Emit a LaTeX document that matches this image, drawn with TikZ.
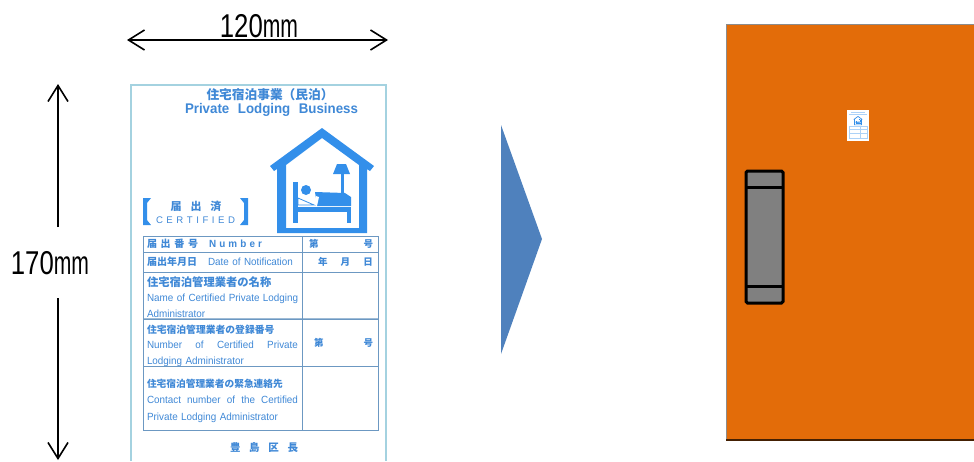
\documentclass[tikz,border=0pt]{standalone}
\usepackage{fontspec}
\usepackage{graphicx}
\setmainfont{Liberation Sans}
\newfontfamily\cjk{Noto Sans CJK JP}
\newfontfamily\narrowsans[FakeStretch=.95]{Liberation Sans}
\usetikzlibrary{arrows.meta,positioning}
\definecolor{signblue}{HTML}{338FEA}
\definecolor{signtext}{HTML}{3F88D6}
\definecolor{tableline}{HTML}{6C98C2}
\definecolor{sheetline}{HTML}{A4D2E0}
\definecolor{doororange}{HTML}{E36C09}
\definecolor{arrowblue}{HTML}{4F81BD}
\newcommand{\spread}[2]{\makebox[#1][s]{#2}}
\newcommand{\jp}[2]{{\cjk\bfseries\fontsize{#1}{15.5}\selectfont #2}}
\newcommand{\dimtext}[1]{\scalebox{.78}[1]{#1}\scalebox{.64}[1]{mm}}
\tikzset{
    signhouse/.pic={
        \fill[signblue, even odd rule] (0,0) -- (52,38) -- (48,43) -- (45,41) -- (45,105) -- (-45,105)
            -- (-45,41) -- (-48,43) -- (-52,38) -- cycle
            (0,10) -- (37,37) -- (37,100) -- (-36,100) -- (-36,37) -- cycle;
        \fill[signblue] (-29,54) rectangle (-24,95);
        \fill[signblue] (-24,79) rectangle (29,84);
        \fill[signblue] (25,84) rectangle (29,95);
        \fill[signblue] (-16,62) circle (5);
        \fill[signblue] (-7,64) -- (23,65) -- (29,69) -- (29,78) -- (-5,78) -- cycle;
        \fill[white] (-9,78) -- (-6,68) -- (-3,69) -- (-5,78) -- cycle;
        \draw[signblue, line width=.8pt, fill=white] (-24,70) -- (-8,77) -- (-24,77) -- cycle;
        \fill[signblue] (15,36) -- (24,36) -- (28,46) -- (11,46) -- cycle;
        \fill[signblue] (18.5,46) rectangle (21.5,65);
    }
}
\begin{document}
\begin{tikzpicture}[
        x=1pt, y=-1pt,
        dimarrow/.style={{Straight Barb[length=16pt, width=20pt, line width=1.6pt]}-{Straight Barb[length=16pt, width=20pt, line width=1.6pt]}, line width=1.6pt},
        dimend/.style={-{Straight Barb[length=16pt, width=20pt, line width=1.6pt]}, line width=1.6pt},
        dimlabel/.style={font=\fontsize{33}{33}\selectfont, inner sep=0pt, text=black},
        signlabel/.style={text=signtext, inner sep=0pt, font=\narrowsans\fontsize{14}{15}\selectfont\bfseries},
        cellleft/.style={draw=tableline, line width=.9pt, text=signtext, minimum width=159pt, minimum height=#1,
                         text width=151pt, inner xsep=4pt, inner ysep=0pt, outer sep=0pt, align=left,
                         font=\narrowsans\fontsize{10.4}{15.5}\selectfont},
        cellright/.style={draw=tableline, line width=.9pt, text=signtext, minimum width=76pt, minimum height=#1,
                          text width=66pt, inner xsep=5pt, inner ysep=0pt, outer sep=0pt, align=left,
                          font=\narrowsans\fontsize{10.4}{15.5}\selectfont}
    ]
    \useasboundingbox (0,0) rectangle (974,461);

    \node[dimlabel] (widthlabel) at (259,26) {\dimtext{120}};
    \coordinate (widthleft) at (127,40);
    \coordinate (widthright) at (388,40);
    \draw[dimarrow] (widthleft) -- (widthright);

    \node[dimlabel] (heightlabel) at (50,263) {\dimtext{170}};
    \coordinate (heighttop) at (58,84);
    \coordinate (heightupper) at (58,227);
    \coordinate (heightlower) at (58,298);
    \coordinate (heightbottom) at (58,460);
    \draw[dimend] (heightupper) -- (heighttop);
    \draw[dimend] (heightlower) -- (heightbottom);

    \draw[sheetline, line width=1.2pt] (131,461) |- (386,85) -- (386,461);

    \node[signlabel] (titlejp) at (270,94.5) {\jp{12.7}{住宅宿泊事業（民泊）}};
    \node[signlabel, below=2.5pt of titlejp.south, xshift=1.5pt] (titleen) {\spread{173pt}{Private\hfil Lodging\hfil Business}};

    \pic at (322,128) {signhouse};

    \fill[signblue] (143,198) -- (151,198) -- (147,203) -- (147,220) -- (151,225) -- (143,225) -- cycle;
    \fill[signblue] (248,198) -- (240,198) -- (244,203) -- (244,220) -- (240,225) -- (248,225) -- cycle;
    \node[signlabel] (certjp) at (196,206) {\jp{11}{\spread{51pt}{届\hfil 出\hfil 済}}};
    \node[signlabel, font=\fontsize{9.6}{10}\selectfont] (certen) at (195.5,220) {\spread{79pt}{C\hfil E\hfil R\hfil T\hfil I\hfil F\hfil I\hfil E\hfil D}};

    \node[cellleft=16pt, anchor=north west] (rownumber) at (143,236)
        {\jp{10}{\spread{51pt}{届\hfil 出\hfil 番\hfil 号}}\hspace{11pt}\spread{53pt}{\bfseries N\hfil u\hfil m\hfil b\hfil e\hfil r}};
    \node[cellleft=20pt, below=0pt of rownumber] (rowdate)
        {\jp{10}{届出年月日}\hspace{11pt}\spread{88pt}{Date of Notification}};
    \node[cellleft=47pt, below=0pt of rowdate] (rowname)
        {\rule{0pt}{13pt}\jp{11.3}{住宅宿泊管理業者の名称}\\\spread{151pt}{Name of Certified Private Lodging}\\Administrator};
    \node[cellleft=47pt, below=0pt of rowname] (rowreg)
        {\rule{0pt}{14pt}\jp{9.8}{住宅宿泊管理業者の登録番号}\\\spread{151pt}{Number\hfil of\hfil Certified\hfil Private}\\Lodging Administrator};
    \node[cellleft=64pt, below=0pt of rowreg] (rowcontact)
        {\rule{0pt}{14pt}\jp{9.7}{住宅宿泊管理業者の緊急連絡先}\\[.6pt]\spread{151pt}{Contact\hfil number\hfil of\hfil the\hfil Certified}\\[1pt]Private Lodging Administrator};

    \node[cellright=16pt, right=0pt of rownumber] (valnumber) {\jp{9.5}{\spread{66pt}{\hspace{2pt}第\hfil 号}}};
    \node[cellright=20pt, right=0pt of rowdate] (valdate) {\jp{9.5}{\spread{66pt}{\hspace{11pt}年\hfil 月\hfil 日}}};
    \node[cellright=47pt, right=0pt of rowname] (valname) {};
    \node[cellright=47pt, right=0pt of rowreg] (valreg) {\jp{9.5}{\spread{66pt}{\hspace{7pt}第\hfil 号}}};
    \node[cellright=64pt, right=0pt of rowcontact] (valcontact) {};
    \draw[tableline, line width=1.5pt] (rowreg.north west) -- (valreg.north east);

    \node[signlabel] (wardname) at (264,447) {\jp{10.5}{\spread{68pt}{豊\hfil 島\hfil 区\hfil 長}}};

    \fill[arrowblue] (501,125) -- (542,239) -- (501,354) -- cycle;

    \fill[doororange] (726,24) rectangle (974,440);
    \draw[black!45, line width=.8pt] (974,24) -- (726,24) -- (726,440);
    \draw[black!70!doororange, line width=1.2pt] (726,440) -- (974,440);

    \draw[black, fill=black!50, line width=3pt, rounded corners=1.5pt] (746,171) rectangle (783,303);
    \draw[black, line width=3pt] (746,187) -- (783,187);
    \draw[black, line width=3pt] (746,286) -- (783,286);

    \fill[white] (847,110) rectangle (869,141);
    \pic[scale=.086] at (858,116) {signhouse};
    \draw[signblue!40, line width=.5pt] (851,112.5) -- (865,112.5);
    \draw[signblue!40, line width=.5pt] (849,114.5) -- (867,114.5);
    \draw[signblue!40, line width=.4pt] (849,126) rectangle (867,138);
    \draw[signblue!40, line width=.4pt] (860,126) -- (860,138);
    \draw[signblue!40, line width=.4pt] (849,129) -- (867,129);
    \draw[signblue!40, line width=.4pt] (849,133) -- (867,133);
\end{tikzpicture}
\end{document}
